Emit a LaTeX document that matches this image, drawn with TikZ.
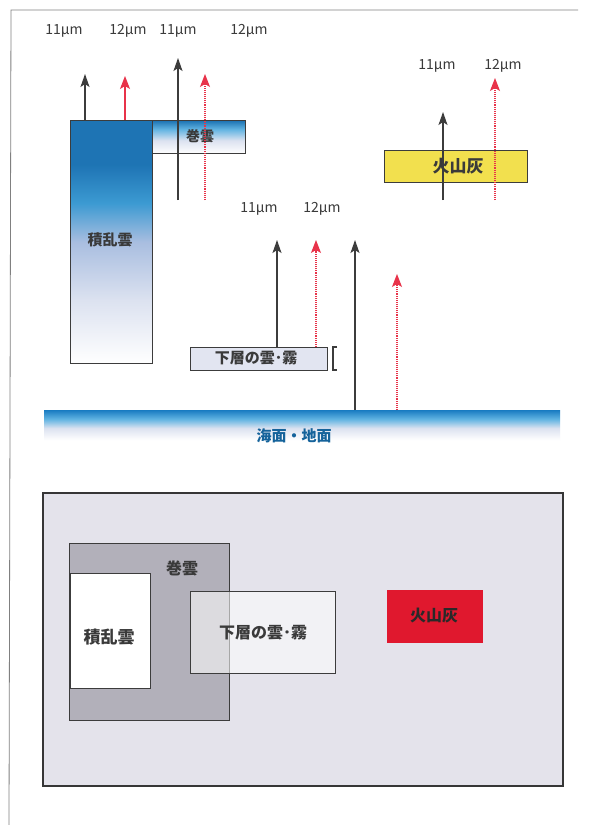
\documentclass[tikz,border=0pt]{standalone}
\usepackage{fontspec}
\setmainfont{Noto Sans CJK JP}
\usetikzlibrary{arrows.meta}
\definecolor{cbA}{HTML}{1E74B4}
\definecolor{cbB}{HTML}{3C9AD2}
\definecolor{cbC}{HTML}{A9BEE0}
\definecolor{cbD}{HTML}{DCE2F0}
\definecolor{seaA}{HTML}{1A7CC2}
\definecolor{seaB}{HTML}{62B4E2}
\definecolor{txt}{HTML}{3A3A3A}
\definecolor{arrred}{HTML}{E8334A}
\definecolor{arrblk}{HTML}{3C3C3C}
\definecolor{ashY}{HTML}{F2E04E}
\definecolor{panel}{HTML}{E4E3EB}
\definecolor{cirG}{HTML}{B2B0BA}
\definecolor{ashR}{HTML}{E0182E}
\definecolor{lowF}{HTML}{E2E5F1}
\pgfdeclareverticalshading{cbshade}{100bp}{color(0bp)=(white); color(25bp)=(white); color(38bp)=(cbD); color(50bp)=(cbC); color(58bp)=(cbB); color(66bp)=(cbA); color(75bp)=(cbA); color(100bp)=(cbA)}
\pgfdeclareverticalshading{seashade}{100bp}{color(0bp)=(white); color(25bp)=(white); color(45bp)=(cbD); color(60bp)=(seaB); color(75bp)=(seaA); color(100bp)=(seaA)}
\pgfdeclareverticalshading{cishade}{100bp}{color(0bp)=(white); color(25bp)=(white); color(45bp)=(cbD); color(62bp)=(seaB); color(75bp)=(cbA); color(100bp)=(cbA)}
\begin{document}
\begin{tikzpicture}[x=1pt,y=-1pt,
  box/.style={draw=arrblk, line width=1.4pt, inner sep=0pt, anchor=north west},
  lab/.style={text=txt, inner sep=0pt, font=\fontsize{#1}{#1}\selectfont\bfseries},
  wl/.style={text=txt, font=\fontsize{14}{14}\selectfont, inner sep=0pt},
  blkarr/.style={draw=arrblk, line width=1.4pt, -{Stealth[width=9pt,length=13pt,inset=3pt]}},
  redarr/.style={draw=arrred, line width=1.1pt, -{Stealth[width=10pt,length=13pt,inset=3pt]}},
  reddot/.style={draw=arrred, line width=1.1pt, densely dotted, -{Stealth[width=10pt,length=13pt,inset=3pt,sep=0pt]}},
  pbox/.style={draw=arrblk, line width=1.2pt, inner sep=0pt, anchor=north west}
]
\useasboundingbox (0,0) rectangle (591,825);
\fill[white] (0,0) rectangle (591,825);
% outer frame (scan)
\draw[gray, line width=0.8pt] (578,10) -- (11,10) -- (9,825);

% ---------- upper diagram ----------
% wavelength labels
\node[wl] (l1) at (64,31) {11μm};
\node[wl] (l2) at (128,31) {12μm};
\node[wl] (l3) at (178,31) {11μm};
\node[wl] (l4) at (249,31) {12μm};
\node[wl] (l5) at (437,66) {11μm};
\node[wl] (l6) at (503,66) {12μm};
\node[wl] (l7) at (259,209) {11μm};
\node[wl] (l8) at (322,209) {12μm};

% cumulonimbus
\node[box, shading=cbshade, minimum width=82pt, minimum height=243pt] (cb) at (70,120) {};
\node[lab=15] (cbt) at (110,240) {積乱雲};
% cirrus
\node[box, shading=cishade, minimum width=93pt, minimum height=33pt] (ci) at (152,120) {};
\node[lab=14] (cit) at (200,136) {巻雲};
% volcanic ash
\node[box, fill=ashY, minimum width=143pt, minimum height=32pt] (ash) at (384,150) {};
\node[lab=17] (asht) at (458,166) {火山灰};
% low cloud
\node[box, fill=lowF, minimum width=137pt, minimum height=23pt] (low) at (190,347) {};
\node[lab=15] (lowt) at (256,358) {下層の雲･霧};
\draw[arrblk, line width=1.3pt] (337,347) -- (333,347) -- (333,370) -- (337,370);
% sea surface
\node[anchor=north west, shading=seashade, minimum width=516pt, minimum height=30pt, inner sep=0pt] (sea) at (44,410) {};
\node[lab=15, text=seaA!80!black] (seat) at (294,436) {海面・地面};

% arrow coordinates
\coordinate (a1b) at (85,120);  \coordinate (a1t) at (85,74);
\coordinate (a2b) at (125,120); \coordinate (a2t) at (125,76);
\coordinate (a3b) at (178,200); \coordinate (a3t) at (178,58);
\coordinate (a4b) at (205,200); \coordinate (a4t) at (205,74);
\coordinate (a5b) at (443,200); \coordinate (a5t) at (443,112);
\coordinate (a6b) at (495,200); \coordinate (a6t) at (495,78);
\coordinate (a7b) at (277,347); \coordinate (a7t) at (277,240);
\coordinate (a8b) at (316,347); \coordinate (a8t) at (316,240);
\coordinate (a9b) at (355,410); \coordinate (a9t) at (355,240);
\coordinate (a10b) at (397,410); \coordinate (a10t) at (397,274);

\draw[blkarr] (a1b) -- (a1t);
\draw[redarr] (a2b) -- (a2t);
\draw[blkarr] (a3b) -- (a3t);
\draw[reddot] (a4b) -- (a4t);
\draw[blkarr] (a5b) -- (a5t);
\draw[reddot] (a6b) -- (a6t);
\draw[blkarr] (a7b) -- (a7t);
\draw[reddot] (a8b) -- (a8t);
\draw[blkarr] (a9b) -- (a9t);
\draw[reddot] (a10b) -- (a10t);

% ---------- lower diagram ----------
\node[draw=arrblk!90!black, line width=2.2pt, fill=panel, anchor=north west, minimum width=520pt, minimum height=293pt, inner sep=0pt] (panel) at (42,492) {};
\node[pbox, fill=cirG, minimum width=160pt, minimum height=177pt] (pci) at (69,543) {};
\node[lab=16] (pcit) at (182,568) {巻雲};
\node[pbox, fill=white, minimum width=80pt, minimum height=115pt] (pcb) at (70,573) {};
\node[lab=17] (pcbt) at (109,637) {積乱雲};
\node[pbox, fill=white, fill opacity=0.55, draw opacity=1, minimum width=145pt, minimum height=82pt] (plow) at (190,591) {};
\node[lab=16] (plowt) at (263,633) {下層の雲･霧};
\node[pbox, draw=none, fill=ashR, minimum width=96pt, minimum height=53pt] (pash) at (386,589) {};
\node[lab=16, text=txt!70!black] (pasht) at (434,616) {火山灰};
\end{tikzpicture}
\end{document}
